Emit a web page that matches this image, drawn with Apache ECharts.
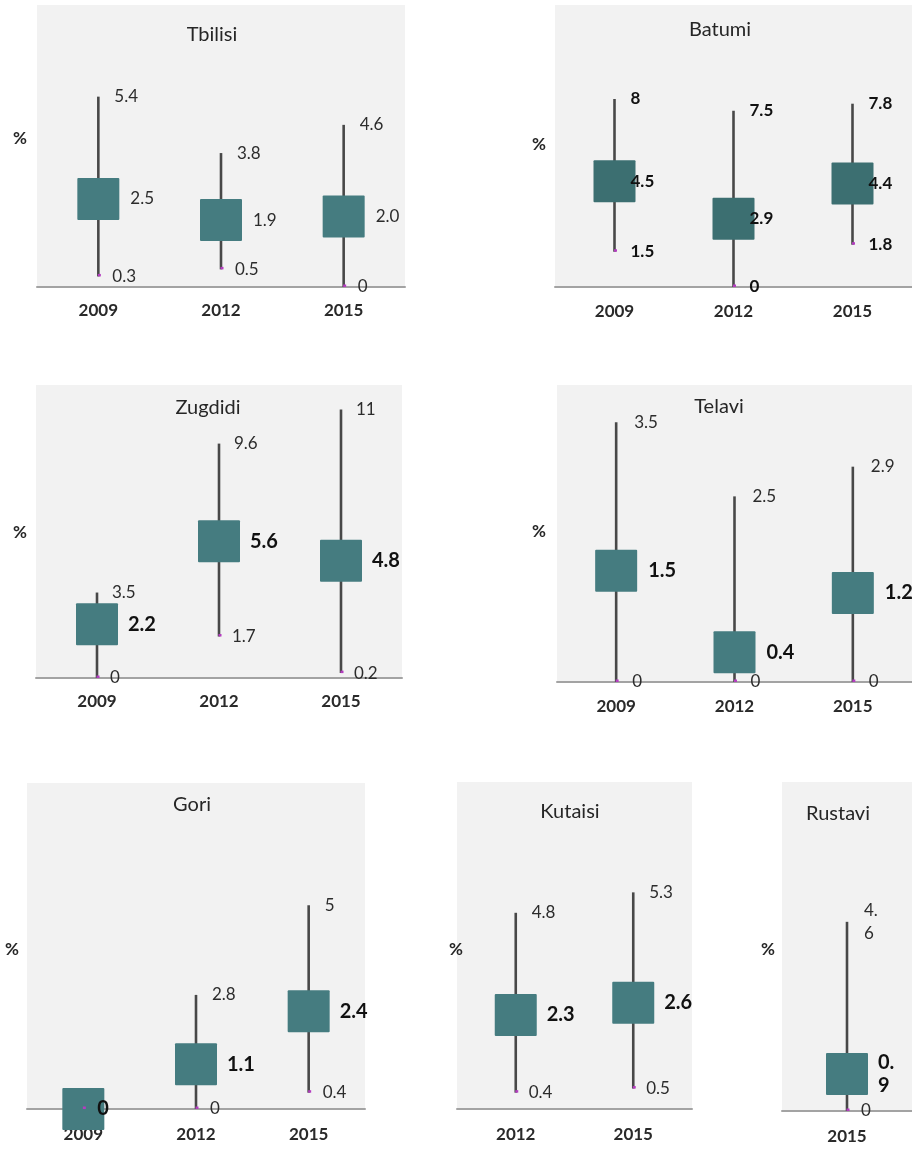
<!DOCTYPE html>
<html>
<head>
<meta charset="utf-8">
<script src="https://cdn.jsdelivr.net/npm/echarts@6/dist/echarts.min.js"></script>
<style>
  html, body { margin: 0; padding: 0; background: #ffffff; }
  #chart { width: 912px; height: 1150px; }
</style>
</head>
<body>
<div id="chart"></div>
<script>
// ---- Data: high / mean / low per city and survey year (%) ----
const tbilisiYears = ['2009', '2012', '2015'];
const tbilisiHigh = [5.4, 3.8, 4.6];
const tbilisiMean = [2.5, 1.9, 2.0];
const tbilisiLow = [0.3, 0.5, 0];

const batumiYears = ['2009', '2012', '2015'];
const batumiHigh = [8, 7.5, 7.8];
const batumiMean = [4.5, 2.9, 4.4];
const batumiLow = [1.5, 0, 1.8];

const zugdidiYears = ['2009', '2012', '2015'];
const zugdidiHigh = [3.5, 9.6, 11];
const zugdidiMean = [2.2, 5.6, 4.8];
const zugdidiLow = [0, 1.7, 0.2];

const telaviYears = ['2009', '2012', '2015'];
const telaviHigh = [3.5, 2.5, 2.9];
const telaviMean = [1.5, 0.4, 1.2];
const telaviLow = [0, 0, 0];

const goriYears = ['2009', '2012', '2015'];
const goriHigh = [0, 2.8, 5];
const goriMean = [0, 1.1, 2.4];
const goriLow = [0, 0, 0.4];

const kutaisiYears = ['2012', '2015'];
const kutaisiHigh = [4.8, 5.3];
const kutaisiMean = [2.3, 2.6];
const kutaisiLow = [0.4, 0.5];

const rustaviYears = ['2015'];
const rustaviHigh = [4.6];
const rustaviMean = [0.9];
const rustaviLow = [0];

// ---- Styling ----
const FONT = 'Lato, "Liberation Sans", "DejaVu Sans", sans-serif';
const PANEL_BG = '#f2f2f2';
const AXIS_COLOR = '#a3a3a3';
const WHISKER = '#484848';
const DOT = '#b43cc0';
const BOX = '#457c80';
const BOX_DARK = '#3c6f71';
const TEXT = '#2c2c2c';
const TEXT_DARK = '#111111';

const regular = { size: 17, weight: 'normal', color: TEXT };
const bold = { size: 20, weight: 'bold', color: TEXT_DARK };
const boldSmall = { size: 17, weight: 'bold', color: TEXT_DARK };

// Panel layout (pixel boxes of each plot area) plus label styling
const panels = [
  { name: 'Tbilisi', years: tbilisiYears, high: tbilisiHigh, mean: tbilisiMean, low: tbilisiLow,
    yMax: 8, grid: { left: 37, top: 5, width: 368, height: 282 },
    title: [212, 35], pct: [20, 139], labelMargin: 16, box: BOX,
    hiStyle: regular, meanStyle: regular, loStyle: regular,
    hiDx: 16, meanDx: 32, loDx: 14, meanDigits: 1 },
  { name: 'Batumi', years: batumiYears, high: batumiHigh, mean: batumiMean, low: batumiLow,
    yMax: 12, grid: { left: 555, top: 5, width: 362, height: 282 },
    title: [720, 30], pct: [539, 145], labelMargin: 17, box: BOX_DARK,
    hiStyle: boldSmall, meanStyle: boldSmall, loStyle: boldSmall,
    hiDx: 16, meanDx: 16, loDx: 16 },
  { name: 'Zugdidi', years: zugdidiYears, high: zugdidiHigh, mean: zugdidiMean, low: zugdidiLow,
    yMax: 12, grid: { left: 36, top: 385, width: 366, height: 293 },
    title: [208, 408], pct: [20, 533], labelMargin: 16, box: BOX,
    hiStyle: regular, meanStyle: bold, loStyle: regular,
    hiDx: 15, meanDx: 31, loDx: 13 },
  { name: 'Telavi', years: telaviYears, high: telaviHigh, mean: telaviMean, low: telaviLow,
    yMax: 4, grid: { left: 557, top: 385, width: 361, height: 297 },
    title: [719, 407], pct: [539, 532], labelMargin: 17, box: BOX,
    hiStyle: regular, meanStyle: bold, loStyle: regular,
    hiDx: 18, meanDx: 32, loDx: 16 },
  { name: 'Gori', years: goriYears, high: goriHigh, mean: goriMean, low: goriLow,
    yMax: 8, grid: { left: 27, top: 783, width: 338, height: 326 },
    title: [192, 805], pct: [12, 950], labelMargin: 18, box: BOX,
    hiStyle: regular, meanStyle: bold, loStyle: regular,
    hiDx: 16, meanDx: 31, loDx: 14 },
  { name: 'Kutaisi', years: kutaisiYears, high: kutaisiHigh, mean: kutaisiMean, low: kutaisiLow,
    yMax: 8, grid: { left: 457, top: 782, width: 235, height: 327 },
    title: [570, 812], pct: [456, 950], labelMargin: 18, box: BOX,
    hiStyle: regular, meanStyle: bold, loStyle: regular,
    hiDx: 16, meanDx: 31, loDx: 13 },
  { name: 'Rustavi', years: rustaviYears, high: rustaviHigh, mean: rustaviMean, low: rustaviLow,
    yMax: 8, grid: { left: 782, top: 782, width: 136, height: 329 },
    title: [838, 814], pct: [768, 950], labelMargin: 18, box: BOX,
    hiStyle: regular, meanStyle: bold, loStyle: regular,
    hiDx: 17, meanDx: 31, loDx: 14, wrap: true }
];

function fmt(v, p, digits) {
  let s = digits != null ? v.toFixed(digits) : String(v);
  if (p.wrap) s = s.replace('.', '.\n');
  return s;
}

function label(text, x, y, st) {
  return {
    type: 'text',
    z2: 10,
    style: {
      text: text, x: x, y: y,
      fill: st.color, fontSize: st.size, fontWeight: st.weight, fontFamily: FONT,
      align: 'left', verticalAlign: 'middle', lineHeight: 23
    }
  };
}

const grids = [], xAxes = [], yAxes = [], series = [], graphics = [];

panels.forEach(function (p, idx) {
  grids.push(Object.assign({
    show: true, backgroundColor: PANEL_BG, borderWidth: 0, containLabel: false
  }, p.grid));

  xAxes.push({
    type: 'category', gridIndex: idx, data: p.years,
    axisLine: { show: true, lineStyle: { color: AXIS_COLOR, width: 2 } },
    axisTick: { show: false },
    splitLine: { show: false },
    axisLabel: { margin: p.labelMargin - 1, color: '#2a2a2a', fontSize: 17, fontWeight: 'bold', fontFamily: FONT }
  });

  yAxes.push({
    type: 'value', gridIndex: idx, min: 0, max: p.yMax,
    axisLine: { show: false }, axisTick: { show: false },
    axisLabel: { show: false }, splitLine: { show: false }
  });

  const data = p.years.map(function (y, i) { return [i, p.high[i], p.mean[i], p.low[i]]; });

  series.push({
    type: 'custom',
    name: p.name,
    xAxisIndex: idx,
    yAxisIndex: idx,
    clip: false,
    data: data,
    renderItem: function (params, api) {
      const i = api.value(0);
      const hi = api.value(1), mean = api.value(2), lo = api.value(3);
      const top = api.coord([i, hi]);
      const bot = api.coord([i, lo]);
      const mid = api.coord([i, mean]);
      const half = 21;
      const cx = mid[0];
      const children = [
        { type: 'line', shape: { x1: top[0], y1: top[1], x2: bot[0], y2: bot[1] },
          style: { stroke: WHISKER, lineWidth: 2.6 } },
        { type: 'rect', shape: { x: cx - half, y: mid[1] - half, width: half * 2, height: half * 2, r: 1 },
          style: { fill: p.box } },
        { type: 'rect', shape: { x: bot[0] - 0.5, y: bot[1] - 2.5, width: 3, height: 2.5 },
          style: { fill: DOT } }
      ];
      if (hi === lo) {
        // no spread: a single value label beside the point
        children.push(label(fmt(mean, p, null), cx + p.loDx, mid[1], bold));
      } else {
        children.push(label(fmt(hi, p, null), cx + p.hiDx, top[1], p.hiStyle));
        children.push(label(fmt(mean, p, p.meanDigits), cx + p.meanDx, mid[1], p.meanStyle));
        children.push(label(fmt(lo, p, null), cx + p.loDx, bot[1], p.loStyle));
      }
      return { type: 'group', children: children };
    }
  });

  graphics.push({
    type: 'text', x: p.title[0], y: p.title[1],
    style: { text: p.name, fill: '#262626', fontSize: 20, fontFamily: FONT,
      align: 'center', verticalAlign: 'middle' }
  });
  graphics.push({
    type: 'text', x: p.pct[0], y: p.pct[1],
    style: { text: '%', fill: '#262626', fontSize: 17, fontWeight: 'bold', fontFamily: FONT,
      align: 'center', verticalAlign: 'middle' }
  });
});

const chart = echarts.init(document.getElementById('chart'), null, { renderer: 'canvas' });
chart.setOption({
  backgroundColor: '#ffffff',
  animation: false,
  grid: grids,
  xAxis: xAxes,
  yAxis: yAxes,
  series: series,
  graphic: graphics
});
</script>
</body>
</html>
